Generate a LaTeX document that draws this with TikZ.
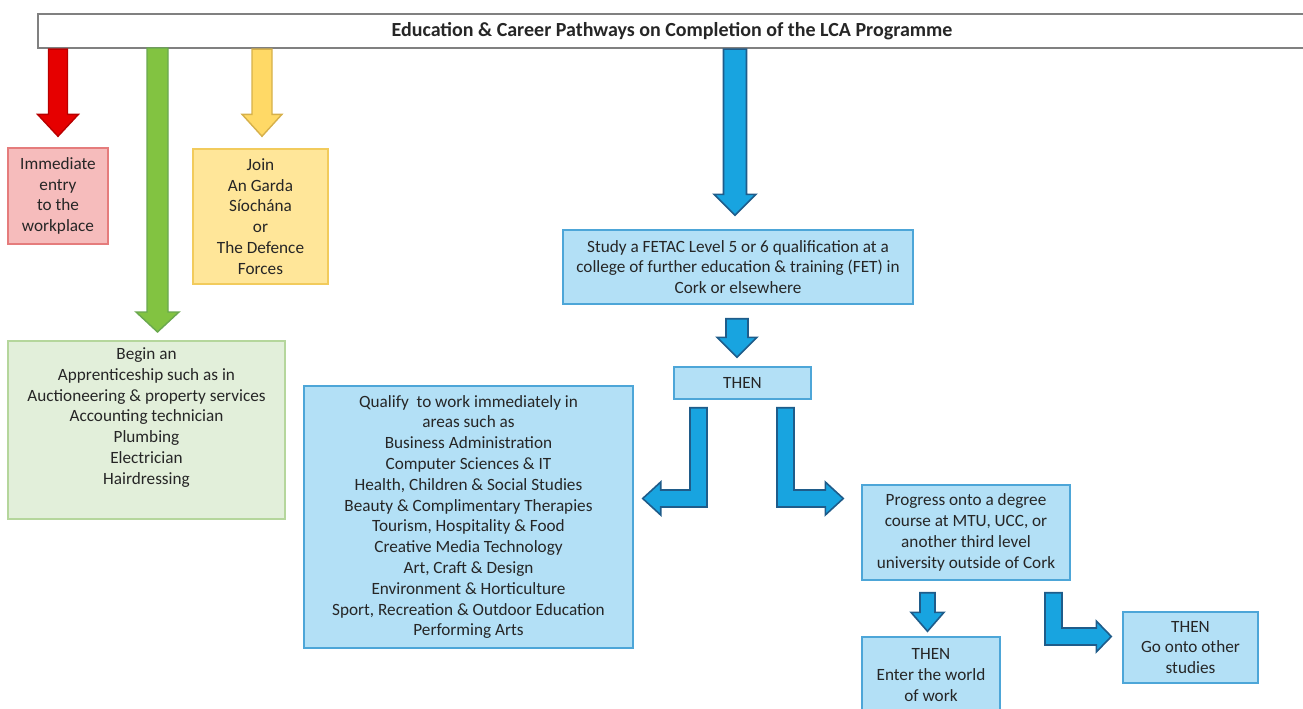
\documentclass[tikz,border=0pt]{standalone}
\usepackage{fontspec}
\setmainfont{Carlito}
\usepackage{xcolor}
\usetikzlibrary{calc, positioning}

\definecolor{redfill}{HTML}{E60000}
\definecolor{redline}{HTML}{B80000}
\definecolor{pinkfill}{HTML}{F6BCBC}
\definecolor{pinkline}{HTML}{E57C7C}
\definecolor{grnfill}{HTML}{82C341}
\definecolor{grnline}{HTML}{6AA84F}
\definecolor{lgrnfill}{HTML}{E2EFDA}
\definecolor{lgrnline}{HTML}{B5D69C}
\definecolor{yelfill}{HTML}{FFD966}
\definecolor{yelline}{HTML}{D6B04A}
\definecolor{lyelfill}{HTML}{FFE699}
\definecolor{lyelline}{HTML}{F2CB5C}
\definecolor{bluefill}{HTML}{18A4E0}
\definecolor{blueline}{HTML}{1F5C8A}
\definecolor{lbluefill}{HTML}{B3E0F6}
\definecolor{lblueline}{HTML}{4DA6D8}
\definecolor{txtgray}{HTML}{262626}

% block arrows: style, top, tip, shaft half width, head half width, head length
\newcommand{\blockdn}[6]{%
  \filldraw[#1] let \p1=#2, \p2=#3 in
    (\x2-#4,\y1) -- (\x2+#4,\y1) -- (\x2+#4,\y2+#6) -- (\x2+#5,\y2+#6)
    -- (\x2,\y2) -- (\x2-#5,\y2+#6) -- (\x2-#4,\y2+#6) -- cycle;}
\newcommand{\blockturn}[6]{%
  \filldraw[#1] let \p1=#2, \p2=#3, \n1={sign(\x2-\x1)} in
    (\x1+\n1*#4,\y1) -- (\x1-\n1*#4,\y1) -- (\x1-\n1*#4,\y2-#4)
    -- (\x2-\n1*#6,\y2-#4) -- (\x2-\n1*#6,\y2-#5) -- (\x2,\y2)
    -- (\x2-\n1*#6,\y2+#5) -- (\x2-\n1*#6,\y2+#4) -- (\x1+\n1*#4,\y2+#4) -- cycle;}

\begin{document}
\begin{tikzpicture}[x=0.5pt, y=-0.5pt,
    every node/.style={inner sep=0pt, align=center, text=txtgray,
        font=\fontsize{8.6}{10.4}\selectfont},
    box/.style={line width=0.7pt},
    pinkbox/.style={box, draw=pinkline, fill=pinkfill},
    grnbox/.style={box, draw=lgrnline, fill=lgrnfill},
    yelbox/.style={box, draw=lyelline, fill=lyelfill},
    bluebox/.style={box, draw=lblueline, fill=lbluefill},
    redarr/.style={fill=redfill, draw=redline, line width=0.7pt},
    grnarr/.style={fill=grnfill, draw=grnline, line width=0.7pt},
    yelarr/.style={fill=yelfill, draw=yelline, line width=0.7pt},
    bluearr/.style={fill=bluefill, draw=blueline, line width=0.8pt}]
    \useasboundingbox (0,0) rectangle (1303,708);
    \clip (0,0) rectangle (1303,708);

    \node[draw=gray, line width=1.1pt, fill=white, minimum width=634pt, minimum height=17pt,
        font=\fontsize{10}{12}\selectfont\bfseries] (title) at (672,31)
        {Education \& Career Pathways on Completion of the LCA Programme};

    \node[pinkbox, minimum width=50pt, minimum height=48pt] (work) at (58,196)
        {Immediate\\entry\\to the\\workplace};
    \node[yelbox, minimum width=67.5pt, minimum height=67.5pt] (garda) at (260.5,216.5)
        {Join\\An Garda\\Síochána\\or\\The Defence\\Forces};
    \node[grnbox, minimum width=138.5pt, minimum height=89pt] (appr) at (146.5,430) {};
    \node[anchor=north, yshift=-3.5pt] (apprtxt) at (appr.north)
        {Begin an\\Apprenticeship such as in\\Auctioneering \& property services\\Accounting technician\\Plumbing\\Electrician\\Hairdressing};

    \node[bluebox, minimum width=175pt, minimum height=37pt] (fet) at (738,267)
        {Study a FETAC Level 5 or 6 qualification at a\\college of further education \& training (FET) in\\Cork or elsewhere};
    \node[bluebox, minimum width=68.5pt, minimum height=16pt] (then) at (742.5,383) {THEN};
    \node[bluebox, minimum width=164.5pt, minimum height=131pt] (qual) at (468.5,517)
        {Qualify\ \ to work immediately in\\areas such as\\Business Administration\\Computer Sciences \& IT\\Health, Children \& Social Studies\\Beauty \& Complimentary Therapies\\Tourism, Hospitality \& Food\\Creative Media Technology\\Art, Craft \& Design\\Environment \& Horticulture\\Sport, Recreation \& Outdoor Education\\Performing Arts};
    \node[bluebox, minimum width=104pt, minimum height=47.5pt] (prog) at (966,532.5)
        {Progress onto a degree\\course at MTU, UCC, or\\another third level\\university outside of Cork};
    \node[bluebox, minimum width=69pt, minimum height=38pt] (enter) at (931,675)
        {THEN\\Enter the world\\of work};
    \node[bluebox, minimum width=67.5pt, minimum height=35.5pt] (goon) at (1190.5,647.5)
        {THEN\\Go onto other\\studies};

    \coordinate (grntop) at (157.5,48);
    \coordinate (grntip) at (157.5,332);

    \blockdn{redarr}{(work.north |- title.south)}{([yshift=5.5pt]work.north)}{4.75pt}{10.25pt}{11pt}
    \blockdn{grnarr}{(grntop)}{(grntip)}{5.25pt}{10.75pt}{10pt}
    \blockdn{yelarr}{($(garda.north |- title.south)+(1.5,0)$)}{($(garda.north)+(1.5,-12)$)}{5pt}{10pt}{11pt}
    \blockdn{bluearr}{($(fet.north |- title.south)+(-3,0)$)}{($(fet.north)+(-3,-14)$)}{5.75pt}{10.5pt}{10.5pt}
    \blockdn{bluearr}{($(fet.south)+(-1,14)$)}{($(then.north -| fet.south)+(-1,-9)$)}{5.5pt}{10pt}{10pt}
    \blockdn{bluearr}{($(prog.south -| enter.north)+(-3.5,12)$)}{($(enter.north)+(-3.5,-5)$)}{3.75pt}{8.25pt}{9.5pt}

    \blockturn{bluearr}{($(then.south)+(-44,8)$)}{($(qual.east)+(9,-18.5)$)}{4.25pt}{8.25pt}{9pt}
    \blockturn{bluearr}{($(then.south)+(43,8)$)}{($(prog.west)+(-18,-34)$)}{4.25pt}{8.25pt}{9pt}
    \blockturn{bluearr}{($(prog.south)+(87.5,12)$)}{($(goon.west)+(-11,-11)$)}{4.25pt}{7.75pt}{7.5pt}
\end{tikzpicture}
\end{document}
